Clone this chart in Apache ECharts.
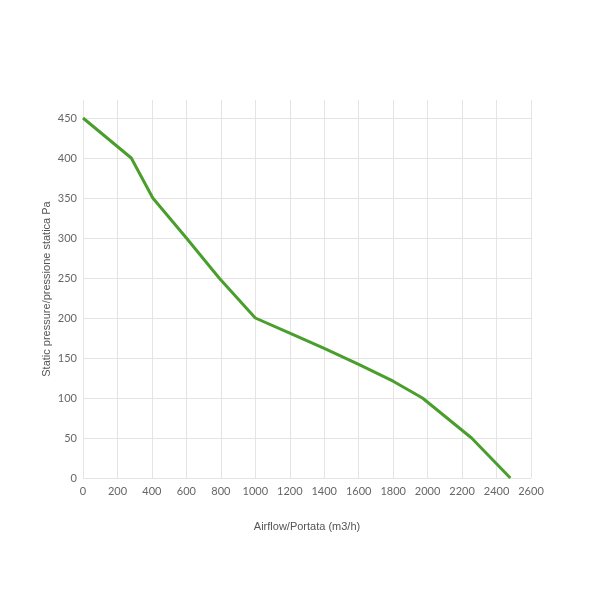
<!DOCTYPE html>
<html>
<head>
<meta charset="utf-8">
<script src="https://cdn.jsdelivr.net/npm/echarts@6/dist/echarts.min.js"></script>
<style>html,body{margin:0;padding:0;background:#fff;}#chart{width:589px;height:589px;}</style>
</head>
<body>
<div id="chart"></div>
<script>
const airflow = [0, 280, 405, 600, 790, 1000, 1200, 1400, 1600, 1800, 1970, 2255, 2480];
const pressure = [450, 400, 350, 300, 250, 200, 181, 162, 142, 121, 100, 50, 0];
const xTitle = 'Airflow/Portata (m3/h)';
const yTitle = 'Static pressure/pressione statica Pa';

const chart = echarts.init(document.getElementById('chart'), null, {renderer: 'canvas'});
chart.setOption({
  animation: false,
  backgroundColor: '#ffffff',
  grid: {left: 83, right: 58, top: 100, bottom: 111, containLabel: false},
  xAxis: {
    type: 'value', min: 0, max: 2600, interval: 200,
    name: xTitle, nameLocation: 'middle', nameGap: 43, nameMoveOverlap: false,
    nameTextStyle: {fontFamily: 'Liberation Sans, Arial', fontSize: 11, color: '#555'},
    axisLine: {show: false}, axisTick: {show: false},
    axisLabel: {margin: 8, fontFamily: 'Lato, Open Sans', fontSize: 11, color: '#666',
      formatter: v => String(v)},
    splitLine: {show: true, lineStyle: {color: '#e4e4e4', width: 1}}
  },
  yAxis: {
    type: 'value', min: 0, max: 472.5, interval: 50,
    name: yTitle, nameLocation: 'middle', nameGap: 31, nameRotate: 90, nameMoveOverlap: false,
    nameTextStyle: {fontFamily: 'Liberation Sans, Arial', fontSize: 11, color: '#555'},
    axisLine: {show: false}, axisTick: {show: false},
    axisLabel: {margin: 6, showMaxLabel: false, fontFamily: 'Lato, Open Sans', fontSize: 11, color: '#666',
      formatter: v => (v % 50 === 0 ? String(v) : '')},
    splitLine: {show: true, showMaxLine: false, lineStyle: {color: '#e4e4e4', width: 1}}
  },
  series: [{
    type: 'line',
    data: airflow.map((x, i) => [x, pressure[i]]),
    showSymbol: false,
    lineStyle: {color: '#4a9e2c', width: 3},
    itemStyle: {color: '#4a9e2c'}
  }]
});
</script>
</body>
</html>
